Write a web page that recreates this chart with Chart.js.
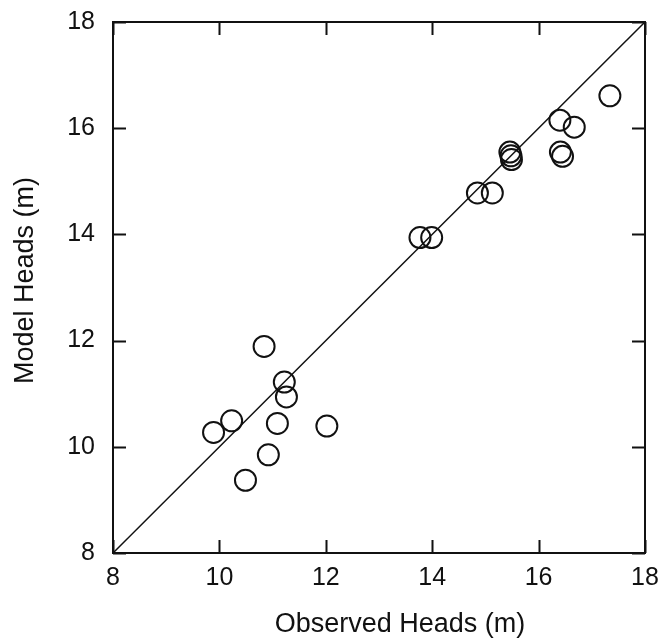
<!DOCTYPE html>
<html>
<head>
<meta charset="utf-8">
<script src="https://cdn.jsdelivr.net/npm/chart.js@4.4.0/dist/chart.umd.min.js"></script>
<style>
    body { margin: 0; background: #fff; }
    #wrap { width: 672px; height: 640px; }
</style>
</head>
<body>
<div id="wrap"><canvas id="scatterChart" width="672" height="640"></canvas></div>
<script>
// DATA
const observedHeads = [9.89, 10.23, 10.49, 10.84, 10.92, 11.09, 11.22, 11.26, 12.02, 13.77, 13.99,
    14.85, 15.13, 15.46, 15.48, 15.49, 16.40, 16.41, 16.45, 16.67, 17.34];
const modelHeads = [10.27, 10.49, 9.37, 11.89, 9.85, 10.44, 11.22, 10.94, 10.39, 13.94, 13.94,
    14.78, 14.78, 15.55, 15.48, 15.41, 16.15, 15.55, 15.47, 16.02, 16.61];
const oneToOne = [8, 18];
const tickValues = [8, 10, 12, 14, 16, 18];
const xTitle = "Observed Heads (m)";
const yTitle = "Model Heads (m)";

const points = observedHeads.map((x, i) => ({ x: x, y: modelHeads[i] }));
const linePoints = oneToOne.map(v => ({ x: v, y: v }));

const FONT = "'Liberation Sans', Arial, sans-serif";

// frame, inward ticks and axis titles
const framePlugin = {
    id: "frame",
    afterDraw(chart) {
        const c = chart.ctx;
        const a = chart.chartArea;
        const xs = chart.scales.x;
        const ys = chart.scales.y;
        const len = 13;
        c.save();
        c.strokeStyle = "#111";
        c.lineWidth = 2;
        c.strokeRect(a.left, a.top, a.right - a.left, a.bottom - a.top);
        c.beginPath();
        tickValues.forEach(v => {
            const px = Math.round(xs.getPixelForValue(v)) + 0.5;
            c.moveTo(px, a.bottom); c.lineTo(px, a.bottom - len);
            c.moveTo(px, a.top); c.lineTo(px, a.top + len);
            const py = Math.round(ys.getPixelForValue(v)) + 0.5;
            c.moveTo(a.left, py); c.lineTo(a.left + len, py);
            c.moveTo(a.right, py); c.lineTo(a.right - len, py);
        });
        c.stroke();

        c.fillStyle = "#111";
        c.font = "27px " + FONT;
        c.textAlign = "center";
        c.textBaseline = "middle";
        c.fillText(xTitle, (a.left + a.right) / 2 + 21, 625);
        c.translate(26, (a.top + a.bottom) / 2 - 7);
        c.rotate(-Math.PI / 2);
        c.fillText(yTitle, 0, 0);
        c.restore();
    }
};

const ctx = document.getElementById("scatterChart").getContext("2d");

new Chart(ctx, {
    type: "scatter",
    data: {
        datasets: [{
            type: "line",
            data: linePoints,
            borderColor: "#111",
            borderWidth: 1.5,
            pointRadius: 0,
            fill: false
        }, {
            data: points,
            pointRadius: 10.5,
            pointHoverRadius: 10.5,
            pointBorderWidth: 2,
            borderColor: "#111",
            backgroundColor: "rgba(0,0,0,0)"
        }]
    },
    options: {
        responsive: false,
        animation: false,
        layout: { padding: { left: 0, right: 27, top: 22, bottom: 0 } },
        plugins: {
            legend: { display: false },
            tooltip: { enabled: false }
        },
        scales: {
            x: {
                type: "linear",
                min: 8,
                max: 18,
                afterBuildTicks(scale) { scale.ticks = tickValues.map(v => ({ value: v })); },
                afterFit(scale) {
                    scale.height = 87;
                    scale.paddingLeft = 0;
                    scale.paddingRight = 0;
                },
                grid: { display: false, drawTicks: false },
                border: { display: false },
                ticks: { color: "#111", font: { family: FONT, size: 25 }, padding: 10, maxRotation: 0 }
            },
            y: {
                type: "linear",
                min: 8,
                max: 18,
                afterBuildTicks(scale) { scale.ticks = tickValues.map(v => ({ value: v })); },
                afterFit(scale) {
                    scale.width = 113;
                    scale.paddingTop = 0;
                    scale.paddingBottom = 0;
                },
                grid: { display: false, drawTicks: false },
                border: { display: false },
                ticks: { color: "#111", font: { family: FONT, size: 25 }, padding: 18 }
            }
        }
    },
    plugins: [framePlugin]
});
</script>
</body>
</html>
